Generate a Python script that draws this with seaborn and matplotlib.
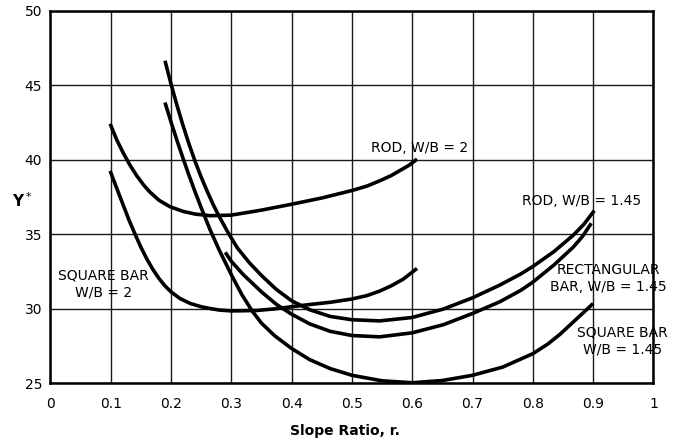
import numpy as np
import pandas as pd
import matplotlib
matplotlib.use("Agg")
import matplotlib.pyplot as plt
import seaborn as sns

# curves (slope ratio r, Y*)
rod2_x = [0.099, 0.11, 0.121, 0.132, 0.143, 0.155, 0.165, 0.18, 0.198, 0.22, 0.24, 0.265, 0.30,
          0.348, 0.40, 0.45, 0.50, 0.525, 0.546, 0.565, 0.58, 0.595, 0.608]
rod2_y = [42.43, 41.35, 40.45, 39.65, 38.95, 38.3, 37.85, 37.3, 36.87, 36.55, 36.37, 36.26, 36.3,
          36.62, 37.03, 37.45, 37.95, 38.25, 38.6, 38.95, 39.3, 39.65, 40.06]

sq2_x = [0.099, 0.11, 0.12, 0.13, 0.14, 0.15, 0.16, 0.17, 0.18, 0.19, 0.20, 0.215, 0.232, 0.25,
         0.265, 0.28, 0.30, 0.342, 0.37, 0.40, 0.43, 0.464, 0.50, 0.525, 0.546, 0.565, 0.585, 0.608]
sq2_y = [39.27, 38.1, 37.05, 36.0, 35.05, 34.15, 33.35, 32.65, 32.05, 31.55, 31.15, 30.7, 30.37, 30.15,
         30.03, 29.93, 29.87, 29.9, 30.0, 30.15, 30.3, 30.45, 30.67, 30.9, 31.2, 31.55, 32.0, 32.72]

rod145_x = [0.19, 0.20, 0.21, 0.22, 0.23, 0.24, 0.25, 0.26, 0.27, 0.28, 0.295, 0.31, 0.33, 0.35,
            0.375, 0.40, 0.43, 0.464, 0.50, 0.546, 0.60, 0.652, 0.70, 0.745, 0.78, 0.80, 0.835,
            0.867, 0.885, 0.902]
rod145_y = [46.66, 45.1, 43.65, 42.3, 41.05, 39.9, 38.85, 37.9, 37.0, 36.2, 35.1, 34.1, 33.1, 32.25,
            31.3, 30.55, 29.95, 29.5, 29.28, 29.2, 29.43, 30.0, 30.75, 31.6, 32.35, 32.85, 33.85,
            34.95, 35.7, 36.6]

rect145_x = [0.29, 0.30, 0.32, 0.35, 0.375, 0.40, 0.43, 0.464, 0.50, 0.546, 0.60, 0.652, 0.70,
             0.745, 0.78, 0.80, 0.835, 0.867, 0.882, 0.897]
rect145_y = [33.8, 33.2, 32.3, 31.15, 30.3, 29.65, 29.0, 28.5, 28.22, 28.13, 28.4, 28.95, 29.7,
             30.48, 31.25, 31.8, 32.95, 34.15, 34.85, 35.75]

sq145_x = [0.19, 0.20, 0.21, 0.22, 0.23, 0.24, 0.25, 0.265, 0.28, 0.30, 0.317, 0.334, 0.35, 0.372,
           0.40, 0.43, 0.464, 0.50, 0.55, 0.60, 0.65, 0.70, 0.75, 0.80, 0.825, 0.845, 0.865, 0.885, 0.90]
sq145_y = [43.86, 42.55, 41.3, 40.1, 38.95, 37.85, 36.8, 35.3, 33.95, 32.3, 31.0, 29.9, 29.05, 28.2,
           27.35, 26.6, 26.0, 25.55, 25.18, 25.05, 25.2, 25.55, 26.1, 27.0, 27.65, 28.3, 29.05, 29.8, 30.37]

x_ticks = [0, 0.1, 0.2, 0.3, 0.4, 0.5, 0.6, 0.7, 0.8, 0.9, 1]
x_tick_labels = ["0", "0.1", "0.2", "0.3", "0.4", "0.5", "0.6", "0.7", "0.8", "0.9", "1"]
y_ticks = [25, 30, 35, 40, 45, 50]

sns.set_theme(style="white")
plt.rcParams["font.family"] = ["DejaVu Sans"]

fig = plt.figure(figsize=(6.75, 4.41), dpi=100)
ax = fig.add_axes([0.0747, 0.1304, 0.8933, 0.8447])

curves = [(rod2_x, rod2_y), (sq2_x, sq2_y), (rod145_x, rod145_y),
          (rect145_x, rect145_y), (sq145_x, sq145_y)]
for cx, cy in curves:
    df = pd.DataFrame({"r": cx, "y": cy})
    sns.lineplot(data=df, x="r", y="y", ax=ax, sort=False, estimator=None,
                 color="black", linewidth=2.6, solid_joinstyle="round",
                 solid_capstyle="butt", zorder=3)

ax.set_xlim(0, 1)
ax.set_ylim(25, 50)
ax.set_xticks(x_ticks)
ax.set_xticklabels(x_tick_labels)
ax.set_yticks(y_ticks)
ax.tick_params(axis="both", length=0, labelsize=10, colors="black")
ax.tick_params(axis="x", pad=10)
ax.tick_params(axis="y", pad=6)
ax.grid(True, color="#1a1a1a", linewidth=1.0)
for s in ax.spines.values():
    s.set_visible(True)
    s.set_color("black")
    s.set_linewidth(1.8)
    s.set_zorder(4)

ax.set_xlabel("Slope Ratio, r.", fontsize=10, fontweight="bold", color="black", va="center")
ax.xaxis.set_label_coords(0.489, -0.127)
ax.set_ylabel("Y$^*$", fontsize=11, fontweight="bold", color="black",
              rotation=0, ha="center", va="center")
ax.yaxis.set_label_coords(-0.047, 0.49)

txt = dict(fontsize=10, color="black", ha="center", va="center", linespacing=1.25)
ax.text(0.613, 40.82, "ROD, W/B = 2", **txt)
ax.text(0.881, 37.22, "ROD, W/B = 1.45", **txt)
ax.text(0.925, 32.06, "RECTANGULAR\nBAR, W/B = 1.45", clip_on=False, **txt)
ax.text(0.949, 27.85, "SQUARE BAR\nW/B = 1.45", clip_on=False, **txt)
ax.text(0.0877, 31.66, "SQUARE BAR\nW/B = 2", **txt)

fig.savefig("out.png", dpi=100)
